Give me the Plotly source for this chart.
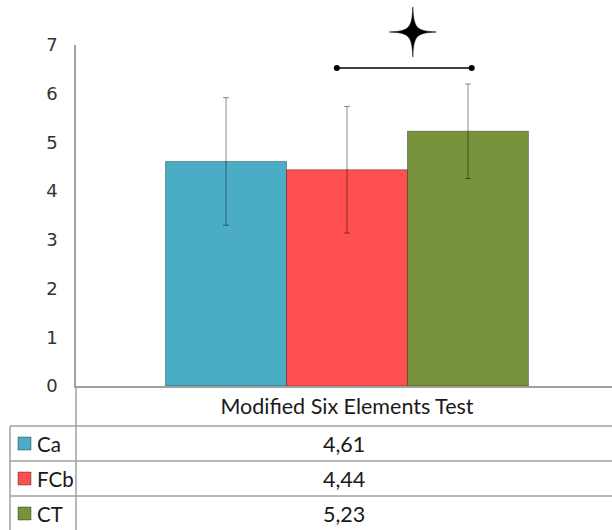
import plotly.graph_objects as go

# ---- data ----
groups = ["Ca", "FCb", "CT"]
means = [4.61, 4.44, 5.23]
errors = [1.31, 1.30, 0.97]
colors = ["#4bacc6", "#ff5050", "#77933c"]
category = "Modified Six Elements Test"
y_ticks = [0, 1, 2, 3, 4, 5, 6, 7]

# ---- layout geometry (pixels) ----
W, H = 612, 530
L, R, T, B = 76, 0, 45, 144
plot_w = W - L - R
plot_h = H - T - B
bargap = 0.323
x_range = [-0.5056, 0.4944]
y_range = [0, 7]


def pxx(px):
    return (px - L) / plot_w


def pxy(py):
    return (H - B - py) / plot_h


def data_x_to_paper(xd):
    return (xd - x_range[0]) / (x_range[1] - x_range[0])


def data_y_to_paper(yd):
    return (yd - y_range[0]) / (y_range[1] - y_range[0])


fig = go.Figure()
for g, m, e, c in zip(groups, means, errors, colors):
    fig.add_trace(go.Bar(
        name=g, x=[category], y=[m],
        marker=dict(color=c, line=dict(color="rgba(0,0,0,0.35)", width=1)),
        error_y=dict(type="data", array=[e], color="rgba(0,0,0,0.45)",
                     thickness=1, width=3),
    ))

bw = (1 - bargap) / len(groups)
centers = [(i - (len(groups) - 1) / 2) * bw for i in range(len(groups))]

grey = "#a0a0a0"
shapes = []
annotations = []

# extended y-axis line through the table
shapes.append(dict(type="line", xref="paper", yref="paper",
                   x0=0, x1=0, y0=0, y1=pxy(531),
                   line=dict(color=grey, width=1.5)))
# table horizontal lines
for py in [426, 461, 496]:
    shapes.append(dict(type="line", xref="paper", yref="paper",
                       x0=pxx(10), x1=pxx(612), y0=pxy(py), y1=pxy(py),
                       line=dict(color=grey, width=1.5)))
# table left border
shapes.append(dict(type="line", xref="paper", yref="paper",
                   x0=pxx(10), x1=pxx(10), y0=pxy(426), y1=pxy(531),
                   line=dict(color=grey, width=1.5)))

row_centers = [443.5, 478.5, 513.5]
for g, m, c, yc in zip(groups, means, colors, row_centers):
    shapes.append(dict(type="rect", xref="paper", yref="paper",
                       xsizemode="pixel", ysizemode="pixel",
                       xanchor=pxx(24.5), yanchor=pxy(yc),
                       x0=-6.5, x1=6.5, y0=-6.5, y1=6.5,
                       fillcolor=c, line=dict(color="rgba(0,0,0,0.35)", width=1)))
    annotations.append(dict(xref="paper", yref="paper", x=pxx(35), y=pxy(yc),
                            text=g, showarrow=False, xanchor="left",
                            yanchor="middle",
                            font=dict(family="Lato", size=20.5, color="#1a1a1a")))
    annotations.append(dict(xref="paper", yref="paper", x=0.5, y=pxy(yc),
                            text=f"{m:.2f}".replace(".", ","), showarrow=False,
                            xanchor="center", yanchor="middle",
                            font=dict(family="Lato", size=21.5, color="#1a1a1a")))

# significance bracket between FCb and CT
br_y = data_y_to_paper(6.53)
bx0 = data_x_to_paper(centers[1] - 0.019)
bx1 = data_x_to_paper(centers[2] + 0.007)
shapes.append(dict(type="line", xref="paper", yref="paper",
                   x0=bx0, x1=bx1, y0=br_y, y1=br_y,
                   line=dict(color="black", width=1.5)))
for bx in [bx0, bx1]:
    shapes.append(dict(type="circle", xref="paper", yref="paper",
                       xsizemode="pixel", ysizemode="pixel",
                       xanchor=bx, yanchor=br_y,
                       x0=-3, x1=3, y0=-3, y1=3,
                       fillcolor="black", line=dict(color="black", width=0)))
# four-pointed star
star_path = ("M 0 25 C 1 3.5 3.5 1 23.5 0 C 3.5 -1 1 -3.5 0 -25 "
             "C -1 -3.5 -3.5 -1 -23.5 0 C -3.5 1 -1 3.5 0 25 Z")
shapes.append(dict(type="path", xref="paper", yref="paper",
                   xsizemode="pixel", ysizemode="pixel",
                   xanchor=data_x_to_paper((centers[1] + centers[2]) / 2 + 0.01),
                   yanchor=pxy(32), path=star_path,
                   fillcolor="black", line=dict(color="black", width=0.5)))

fig.update_layout(
    width=W, height=H,
    margin=dict(l=L, r=R, t=T, b=B),
    barmode="group", bargap=bargap, bargroupgap=0,
    showlegend=False,
    plot_bgcolor="white", paper_bgcolor="white",
    shapes=shapes, annotations=annotations,
    xaxis=dict(range=x_range, showline=True, linecolor=grey, linewidth=1.5,
               showgrid=False, zeroline=False, ticks="",
               tickfont=dict(family="Lato", size=21.5, color="#1a1a1a"),
               ticklabelstandoff=0),
    yaxis=dict(range=y_range, tickvals=y_ticks, showline=True, linecolor=grey,
               linewidth=1.5, showgrid=False, zeroline=False, ticks="",
               tickfont=dict(family="DejaVu Sans", size=18, color="#333"),
               ticklabelstandoff=13),
)

fig.write_html("out.html")
